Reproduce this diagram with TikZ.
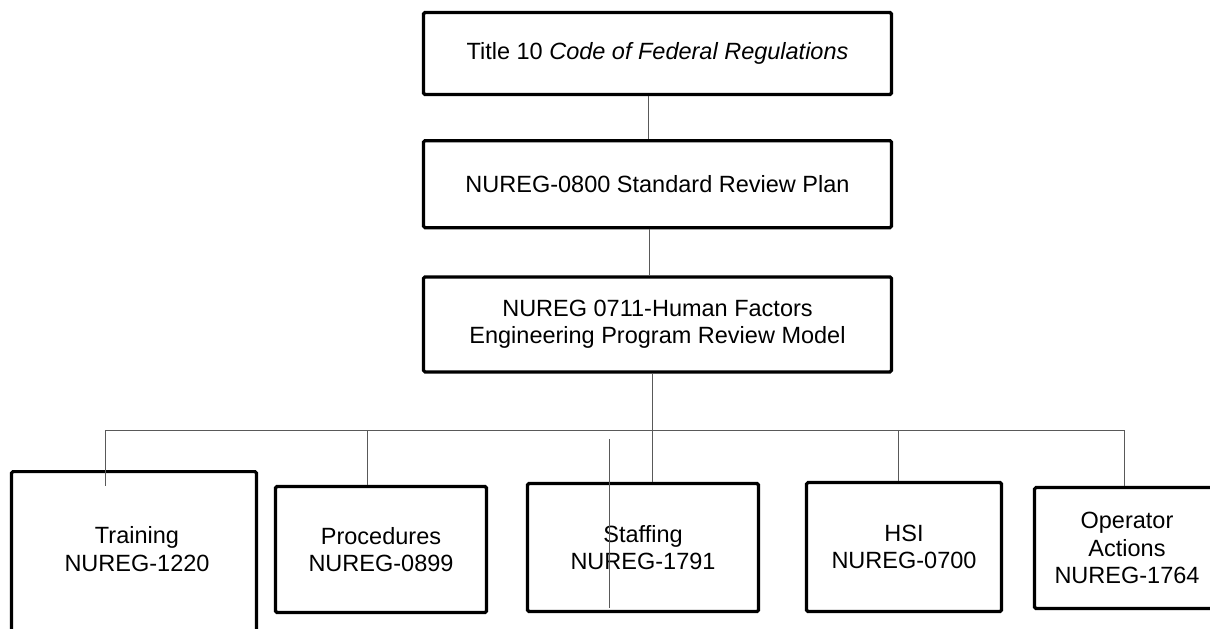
\documentclass[tikz,border=0pt]{standalone}
\usepackage{fontspec}
\setmainfont{Liberation Sans}
\usetikzlibrary{positioning}
\tikzset{
  bx/.style={rectangle, rounded corners=1.5pt, line width=3.2pt, draw=black, align=center, text centered, font=\fontsize{23.5}{27.5}\selectfont},
  txt/.style={align=center, font=\fontsize{23.5}{27.5}\selectfont},
  ln/.style={draw=black!65, line width=1pt},
  node distance=43pt
}
\begin{document}
\begin{tikzpicture}[x=1pt, y=-1pt]
	\useasboundingbox (0,0) rectangle (1210,629);
	\node[bx, minimum width=468pt, minimum height=82pt] (cfr) at (657.5,53.5) {Title 10 \textit{Code of Federal Regulations}};
	\node[bx, minimum width=468pt, minimum height=87pt, below=of cfr] (srp) {NUREG-0800 Standard Review Plan};
	\node[bx, minimum width=468pt, minimum height=95pt, below=46pt of srp] (hfe) {NUREG 0711-Human Factors\\Engineering Program Review Model};
	%
	\node[bx, minimum width=245pt, minimum height=200pt, anchor=north] (training) at (134,470) {};
	\node[txt] (trainingtxt) at (137,549) {Training\\NUREG-1220};
	\node[bx, minimum width=211pt, minimum height=126pt] (procedures) at (381,549.5) {Procedures\\NUREG-0899};
	\node[bx, minimum width=231pt, minimum height=128pt] (staffing) at (643,547.5) {Staffing\\NUREG-1791};
	\node[bx, minimum width=195pt, minimum height=129pt] (hsi) at (904,547) {HSI\\NUREG-0700};
	\node[bx, minimum width=185pt, minimum height=121pt] (operator) at (1127,548) {Operator\\Actions\\NUREG-1764};
	%
	\coordinate (busL) at (105,430);
	\coordinate (busR) at (1124,430);
	\draw[ln] ([xshift=-9.5pt]cfr.south) -- ([xshift=-9.5pt]cfr.south |- srp.north);
	\draw[ln] ([xshift=-8pt]srp.south) -- ([xshift=-8pt]srp.south |- hfe.north);
	\draw[ln] ([xshift=-5.5pt]hfe.south) -- ([xshift=-5.5pt]hfe.south |- staffing.north);
	\draw[ln] (busL) -- (busR);
	\draw[ln] (busL) -- ++(0,56);
	\draw[ln] (busL -| 367,0) -- ([xshift=-14pt]procedures.north);
	\draw[ln] (busL -| 898,0) -- ([xshift=-6pt]hsi.north);
	\draw[ln] (busR) -- (busR |- operator.north);
	\draw[ln] (609,439) -- (609,608);
\end{tikzpicture}
\end{document}
